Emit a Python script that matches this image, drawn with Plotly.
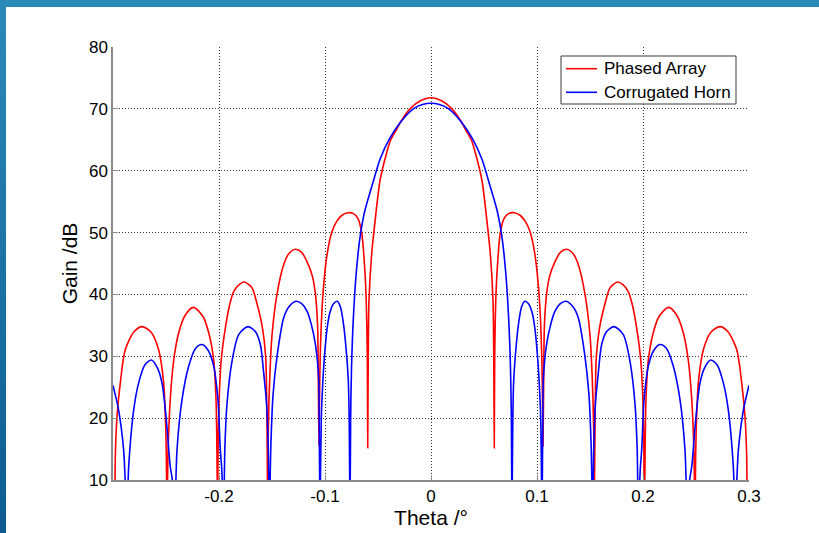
import plotly.graph_objects as go

# ---------------- data ----------------
theta_pa_left = [-0.3, -0.2985, -0.2978, -0.2962, -0.2931, -0.2884, -0.280, -0.2726, -0.264, -0.257,
                 -0.2522, -0.2506, -0.2498, -0.249, -0.248, -0.246, -0.2427, -0.238, -0.232, -0.2242,
                 -0.215, -0.2097, -0.205, -0.2028, -0.2022, -0.2013, -0.2008, -0.1997, -0.198, -0.194,
                 -0.190, -0.186, -0.181, -0.176, -0.169, -0.164, -0.159, -0.156, -0.1548, -0.154,
                 -0.1535, -0.152, -0.150, -0.1453, -0.139, -0.134, -0.128, -0.122, -0.117, -0.112,
                 -0.109, -0.107, -0.1065, -0.1057, -0.1052, -0.1045, -0.103, -0.101, -0.098, -0.0937,
                 -0.089, -0.084, -0.0786, -0.0735, -0.069, -0.0654, -0.063, -0.0613, -0.0601, -0.0597,
                 -0.0592, -0.0585, -0.056, -0.0528, -0.048, -0.0418, -0.038, -0.0324, -0.029, -0.0198,
                 -0.01]
gain_pa_left = [8, 5, 14, 20.3, 25.7, 31.1, 34.0, 34.8, 33.9, 31.1,
                25.7, 20.3, 15, 5, 15, 23, 29.4, 33.8, 36.6, 37.9,
                36.4, 33.8, 29.4, 23, 18, 5, 16, 23.8, 29.2, 34.6,
                38.3, 40.5, 41.6, 42.0, 41.1, 38.4, 34.6, 30, 20, 5,
                18, 27, 33.4, 40, 44.8, 46.6, 47.3, 46.8, 45.3, 43,
                40, 35, 30, 15.5, 23, 30, 37, 42, 46.5, 50,
                51.8, 52.8, 53.2, 53.1, 52.3, 50, 45.5, 40, 30, 15.2,
                30, 39, 46.5, 51.8, 58.5, 62.9, 65.0, 66.7, 67.8, 70.0,
                71.3]
theta_pa_center = [0.0]
gain_pa_center = [71.8]
theta_pa_right = [0.01, 0.0198, 0.029, 0.0324, 0.038, 0.0418, 0.048, 0.0528, 0.056, 0.0585,
                  0.0592, 0.0597, 0.0601, 0.0613, 0.063, 0.0654, 0.069, 0.0735, 0.0786, 0.084,
                  0.089, 0.0937, 0.098, 0.101, 0.103, 0.1045, 0.1052, 0.1057, 0.1065, 0.107,
                  0.109, 0.112, 0.117, 0.122, 0.128, 0.134, 0.139, 0.1453, 0.150, 0.152,
                  0.1535, 0.154, 0.1548, 0.156, 0.159, 0.164, 0.169, 0.176, 0.181, 0.186,
                  0.190, 0.194, 0.198, 0.1997, 0.2008, 0.2013, 0.2022, 0.2028, 0.205, 0.2097,
                  0.215, 0.2242, 0.232, 0.238, 0.2427, 0.246, 0.248, 0.249, 0.2498, 0.2506,
                  0.2522, 0.257, 0.264, 0.2726, 0.280, 0.2884, 0.2931, 0.2962, 0.2978, 0.2985,
                  0.3]
gain_pa_right = [71.3, 70.0, 67.8, 66.7, 65.0, 62.9, 58.5, 51.8, 46.5, 39,
                 30, 15.2, 30, 40, 45.5, 50, 52.3, 53.1, 53.2, 52.8,
                 51.8, 50, 46.5, 42, 37, 30, 23, 15.5, 30, 35,
                 40, 43, 45.3, 46.8, 47.3, 46.6, 44.8, 40, 33.4, 27,
                 18, 5, 20, 30, 34.6, 38.4, 41.1, 42.0, 41.6, 40.5,
                 38.3, 34.6, 29.2, 23.8, 16, 5, 18, 23, 29.4, 33.8,
                 36.4, 37.9, 36.6, 33.8, 29.4, 23, 15, 5, 15, 20.3,
                 25.7, 31.1, 33.9, 34.8, 34.0, 31.1, 25.7, 20.3, 14, 5,
                 8]

theta_ch_left = [-0.3, -0.2947, -0.29, -0.2885, -0.2868, -0.2852, -0.2805, -0.2758, -0.270, -0.2638,
                 -0.258, -0.2538, -0.25, -0.246, -0.244, -0.2418, -0.2396, -0.2349, -0.2286, -0.222,
                 -0.216, -0.210, -0.205, -0.201, -0.1988, -0.1975, -0.1956, -0.1945, -0.1925, -0.1877,
                 -0.1814, -0.1726, -0.1657, -0.161, -0.158, -0.155, -0.1535, -0.1525, -0.151, -0.149,
                 -0.145, -0.139, -0.134, -0.1274, -0.122, -0.117, -0.113, -0.109, -0.106, -0.1055,
                 -0.1047, -0.1035, -0.102, -0.1005, -0.098, -0.0955, -0.092, -0.0885, -0.0855, -0.0827,
                 -0.0800, -0.078, -0.0772, -0.0764, -0.0758, -0.075, -0.0733, -0.0705, -0.067, -0.0623,
                 -0.0544, -0.048, -0.0387, -0.029, -0.0167, -0.008]
gain_ch_left = [25.3, 21.3, 14.9, 10, 5, 12.2, 21.3, 25.7, 28.6, 29.4,
                28.1, 25.7, 20.3, 12.2, 10, 5, 14.9, 23, 28.4, 31.3,
                31.9, 30.9, 28.4, 23, 15, 12, 5, 15, 22.2, 29.2,
                33.5, 34.8, 34.0, 31.9, 27.6, 22, 15, 5, 16, 23.8,
                30.3, 36.2, 38.0, 38.9, 38.5, 37.3, 35.2, 31.9, 26.5, 20,
                5, 20, 26, 30, 34.5, 37, 38.5, 38.9, 38, 35.4,
                31, 26, 20, 5, 20, 28, 36, 43.5, 49.2, 53.6,
                58.3, 61.9, 65.3, 67.8, 70.0, 70.7]
theta_ch_center = [0.0]
gain_ch_center = [70.9]
theta_ch_right = [0.008, 0.0167, 0.029, 0.0387, 0.048, 0.0544, 0.0623, 0.067, 0.0705, 0.0733,
                  0.075, 0.0758, 0.0764, 0.0772, 0.078, 0.0800, 0.0827, 0.0855, 0.0885, 0.092,
                  0.0955, 0.098, 0.1005, 0.102, 0.1035, 0.1047, 0.1055, 0.106, 0.109, 0.113,
                  0.117, 0.122, 0.1274, 0.134, 0.139, 0.145, 0.149, 0.151, 0.1525, 0.1535,
                  0.155, 0.158, 0.161, 0.1657, 0.1726, 0.1814, 0.1877, 0.1925, 0.1945, 0.1956,
                  0.1975, 0.1988, 0.201, 0.205, 0.210, 0.216, 0.222, 0.2286, 0.2349, 0.2396,
                  0.2418, 0.244, 0.246, 0.25, 0.2538, 0.258, 0.2638, 0.270, 0.2758, 0.2805,
                  0.2852, 0.2868, 0.2885, 0.29, 0.2947, 0.3]
gain_ch_right = [70.7, 70.0, 67.8, 65.3, 61.9, 58.3, 53.6, 49.2, 43.5, 36,
                 28, 20, 5, 20, 26, 31, 35.4, 38, 38.9, 38.5,
                 37, 34.5, 30, 26, 20, 5, 20, 26.5, 31.9, 35.2,
                 37.3, 38.5, 38.9, 38.0, 36.2, 30.3, 23.8, 16, 5, 15,
                 22, 27.6, 31.9, 34.0, 34.8, 33.5, 29.2, 22.2, 15, 5,
                 12, 15, 23, 28.4, 30.9, 31.9, 31.3, 28.4, 23, 14.9,
                 5, 10, 12.2, 20.3, 25.7, 28.1, 29.4, 28.6, 25.7, 21.3,
                 12.2, 5, 10, 14.9, 21.3, 25.3]

series_names = ["Phased Array", "Corrugated Horn"]
series_colors = ["#ff0000", "#0000ff"]
x_tick_vals = [-0.3, -0.2, -0.1, 0, 0.1, 0.2, 0.3]
x_tick_text = ["", "-0.2", "-0.1", "0", "0.1", "0.2", "0.3"]
y_tick_vals = [10, 20, 30, 40, 50, 60, 70, 80]
x_title = "Theta /°"
y_title = "Gain /dB"

theta_pa = theta_pa_left + theta_pa_center + theta_pa_right
gain_pa = gain_pa_left + gain_pa_center + gain_pa_right
theta_ch = theta_ch_left + theta_ch_center + theta_ch_right
gain_ch = gain_ch_left + gain_ch_center + gain_ch_right

FONT = "Liberation Sans, Arial, Helvetica, sans-serif"

fig = go.Figure()
fig.add_trace(go.Scatter(x=theta_pa, y=gain_pa, mode="lines", name=series_names[0],
                         line=dict(color=series_colors[0], width=1.6, shape="spline", smoothing=0.8)))
fig.add_trace(go.Scatter(x=theta_ch, y=gain_ch, mode="lines", name=series_names[1],
                         line=dict(color=series_colors[1], width=1.6, shape="spline", smoothing=0.8)))

W, H = 819, 533
ml, mr, mt, mb = 113, 70, 47, 53
pw, ph = W - ml - mr, H - mt - mb

def px_to_paper_x(px):
    return (px - ml) / pw

def py_to_paper_y(py):
    return (H - mb - py) / ph

shapes = []
# top blue band
shapes.append(dict(type="rect", xref="paper", yref="paper",
                   x0=px_to_paper_x(0), x1=px_to_paper_x(W + 2),
                   y0=py_to_paper_y(7), y1=py_to_paper_y(-2),
                   fillcolor="rgb(43,138,182)", line=dict(width=0), layer="above"))
# left blue band with vertical gradient
n = 24
c0 = (42, 137, 183)
c1 = (14, 92, 146)
for i in range(n):
    f = i / (n - 1)
    col = tuple(round(c0[k] + (c1[k] - c0[k]) * f) for k in range(3))
    shapes.append(dict(type="rect", xref="paper", yref="paper",
                       x0=px_to_paper_x(-2), x1=px_to_paper_x(6),
                       y0=py_to_paper_y(7 + (H + 2 - 7) * (i + 1) / n),
                       y1=py_to_paper_y(7 + (H + 2 - 7) * i / n),
                       fillcolor="rgb(%d,%d,%d)" % col, line=dict(width=0), layer="above"))
shapes.append(dict(type="rect", xref="paper", yref="paper",
                   x0=px_to_paper_x(-2), x1=px_to_paper_x(6),
                   y0=py_to_paper_y(7), y1=py_to_paper_y(-2),
                   fillcolor="rgb(42,137,183)", line=dict(width=0), layer="above"))

# legend box (drawn like the MATLAB legend)
annotations = []
shapes.append(dict(type="rect", xref="paper", yref="paper",
                   x0=px_to_paper_x(561), x1=px_to_paper_x(736),
                   y0=py_to_paper_y(104), y1=py_to_paper_y(56),
                   fillcolor="white", line=dict(color="#3a3a3a", width=1), layer="above"))
row_y = [68.7, 92.3]
for name, col, ry in zip(series_names, series_colors, row_y):
    shapes.append(dict(type="line", xref="paper", yref="paper",
                       x0=px_to_paper_x(566), x1=px_to_paper_x(597),
                       y0=py_to_paper_y(ry), y1=py_to_paper_y(ry),
                       line=dict(color=col, width=1.6), layer="above"))
    annotations.append(dict(xref="paper", yref="paper", x=px_to_paper_x(601.5), y=py_to_paper_y(ry),
                            xanchor="left", yanchor="middle", showarrow=False, text=name,
                            font=dict(family=FONT, size=17, color="#000000")))

fig.update_layout(
    width=W, height=H,
    margin=dict(l=ml, r=mr, t=mt, b=mb, pad=0),
    paper_bgcolor="white", plot_bgcolor="white",
    font=dict(family=FONT, size=17, color="#000000"),
    showlegend=False,
    shapes=shapes,
    annotations=annotations,
    xaxis=dict(range=[-0.3, 0.3], tickvals=x_tick_vals, ticktext=x_tick_text,
               showgrid=True, gridcolor="#333333", gridwidth=1, griddash="1px,2px",
               zeroline=False, showline=True, linecolor="#8a8a8a", linewidth=1.5,
               ticks="inside", ticklen=5, tickcolor="#8a8a8a", mirror=False,
               title=dict(text=x_title, font=dict(family=FONT, size=21), standoff=1),
               tickfont=dict(family=FONT, size=17)),
    yaxis=dict(range=[10, 80], tickvals=y_tick_vals,
               showgrid=True, gridcolor="#333333", gridwidth=1, griddash="1px,2px",
               zeroline=False, showline=True, linecolor="#8a8a8a", linewidth=1.5,
               ticks="inside", ticklen=5, tickcolor="#8a8a8a", mirror=False,
               title=dict(text=y_title, font=dict(family=FONT, size=21), standoff=6),
               tickfont=dict(family=FONT, size=17)),
)

fig.write_html("out.html")
